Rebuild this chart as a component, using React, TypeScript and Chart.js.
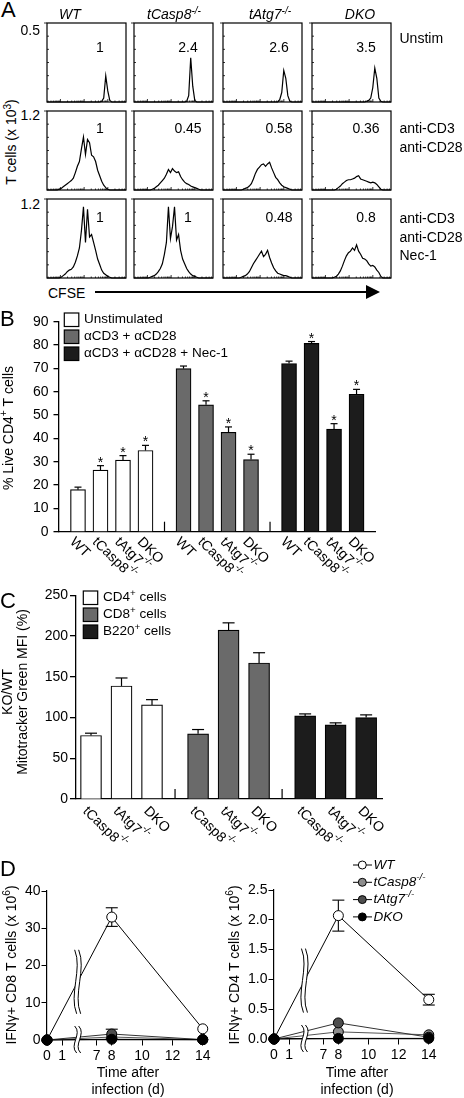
import React, { useEffect, useRef } from "react";
import { Chart, registerables } from "chart.js";

Chart.register(...registerables);

const FONT = '"Liberation Sans", Arial, Helvetica, sans-serif';

// ================= DATA =================
// Panel A
const genotypes = ["WT", "tCasp8", "tAtg7", "DKO"];
const genotypeSup = ["", "-/-", "-/-", ""];
const aRowMax = ["0.5", "1.2", "1.2"];
const aRowConditions = [["Unstim"], ["anti-CD3", "anti-CD28"], ["anti-CD3", "anti-CD28", "Nec-1"]];
const aRatios = [
  ["1", "2.4", "2.6", "3.5"],
  ["1", "0.45", "0.58", "0.36"],
  ["1", "1", "0.48", "0.8"],
];
const cfseBins = Array.from({ length: 40 }, (_, i) => i + 1);
// histogram heights, % of panel full scale
const histUnstimWT = [0,0,0,0,0,0,0,0,0,0, 0,0,0,0,0,0,0,0,0,0, 0,0,0,0,0,0,0,1,5,33, 14,2,0,0,0,0,0,0,0,0];
const histUnstimCasp8 = [0,0,0,0,0,0,0,0,0,0, 0,0,0,0,0,0,0,0,0,0, 0,0,0,0,0,0,1,8,56,20, 2,0,0,0,0,0,0,0,0,0];
const histUnstimAtg7 = [0,0,0,0,0,0,0,0,0,0, 0,0,0,0,0,0,0,0,0,0, 0,0,0,0,0,0,0,0,3,12, 40,30,8,1,0,0,0,0,0,0];
const histUnstimDKO = [0,0,0,0,0,0,0,0,0,0, 0,0,0,0,0,0,0,0,0,0, 0,0,0,0,0,0,0,1,2,5, 18,43,30,5,1,0,0,0,0,0];
const histCD3WT = [0,0,0,0,0,0,1,2,4,6, 8,10,12,15,22,30,36,52,67,45, 64,60,44,42,36,25,18,11,6,3, 1,0,0,0,0,0,0,0,0,0];
const histCD3Casp8 = [0,0,0,0,0,0,0,0,0,1, 2,4,6,9,12,15,20,26,22,27, 24,22,23,17,13,10,8,7,5,4, 3,2,1,0,0,0,0,0,0,0];
const histCD3Atg7 = [0,0,0,0,0,0,0,0,0,0, 1,2,3,5,8,14,21,26,29,32, 33,30,33,35,28,22,16,13,9,6, 4,3,2,1,0,0,0,0,0,0];
const histCD3DKO = [0,0,0,0,0,0,0,0,0,0, 0,0,1,3,5,8,10,12,13,13, 14,15,17,18,14,13,12,11,10,9, 10,9,7,4,1,0,0,0,0,0];
const histNecWT = [0,0,0,0,0,0,0,1,3,5, 8,10,11,14,20,28,38,60,90,45, 87,52,55,45,35,24,17,10,6,4, 2,1,0,0,0,0,0,0,0,0];
const histNecCasp8 = [0,0,0,0,0,0,0,0,1,2, 3,5,8,12,18,30,45,90,50,65, 90,48,55,35,24,18,12,8,5,3, 2,1,0,0,0,0,0,0,0,0];
const histNecAtg7 = [0,0,0,0,0,0,0,0,0,1, 2,3,5,8,13,18,22,26,30,34, 27,30,35,26,19,13,9,6,5,4, 3,3,2,1,0,0,0,0,0,0];
const histNecDKO = [0,0,0,0,0,0,0,0,0,0, 0,1,2,5,9,15,22,28,32,34, 38,35,42,34,30,25,24,22,18,15, 16,14,10,7,2,0,0,0,0,0];

// Panel B
const bGenotypes = ["WT", "tCasp8", "tAtg7", "DKO"];
const bGenotypeSup = ["", "-/-", "-/-", ""];
const bLegend = ["Unstimulated", "αCD3 + αCD28", "αCD3 + αCD28 + Nec-1"];
const bUnstim = [18, 26.4, 30.7, 34.8];
const bUnstimErr = [1.1, 1.9, 1.9, 2.2];
const bCD3 = [69.9, 54.4, 42.6, 30.9];
const bCD3Err = [1.1, 1.7, 2.3, 2.3];
const bNec = [72.1, 80.7, 44.0, 58.9];
const bNecErr = [1.0, 0.8, 2.3, 2.1];
const bStars = [false, true, true, true];

// Panel C
const cGenotypes = ["tCasp8", "tAtg7", "DKO"];
const cGenotypeSup = ["-/-", "-/-", ""];
const cLegend = ["CD4", "CD8", "B220"];
const cCD4 = [78, 138.8, 115.5];
const cCD4Err = [2.8, 9.8, 6.5];
const cCD8 = [80, 207.3, 167];
const cCD8Err = [5.3, 9, 12.6];
const cB220 = [102, 91, 100];
const cB220Err = [2.5, 2.5, 3.3];

// Panel D
const dDays = [0, 8, 14];
const dTickDays = [0, 1, 7, 8, 10, 12, 14];
const dSeriesNames = ["WT", "tCasp8", "tAtg7", "DKO"];
const dCD8WT = [0, 33, 3];
const dCD8WTErr = [0, 2.5, 0];
const dCD8Casp8 = [0, 0.8, 0.1];
const dCD8Atg7 = [0, 1.6, 0.1];
const dCD8Atg7Err = [0, 1.3, 0];
const dCD8DKO = [0, 0.2, 0.1];
const dCD4WT = [0, 2.07, 0.66];
const dCD4WTErr = [0, 0.26, 0.09];
const dCD4Casp8 = [0, 0.12, 0.07];
const dCD4Atg7 = [0, 0.27, 0.03];
const dCD4DKO = [0, 0.01, 0.01];

// ================= LAYOUT / STYLE =================
const A_COL_X = [47, 134, 223, 312];
const A_ROW_Y = [23, 111, 199];
const A_W = 79;
const A_H = 79;
const aHistRows = [
  [histUnstimWT, histUnstimCasp8, histUnstimAtg7, histUnstimDKO],
  [histCD3WT, histCD3Casp8, histCD3Atg7, histCD3DKO],
  [histNecWT, histNecCasp8, histNecAtg7, histNecDKO],
];
const B_COLORS = ["#ffffff", "#6a6a6a", "#1c1c1c"];
const D_COLORS = ["#ffffff", "#8e8e8e", "#4e4e4e", "#000000"];
const D_LINE = ["#000000", "#555555", "#333333", "#000000"];
const D_GAP = 3.73; // axis units removed by the broken x-axis between day 1 and day 7
const dAxisPos = (d: number) => (d <= 1 ? d : d - D_GAP);

type Seg = { t: string; sup?: boolean };
type TextItem = {
  segs: Seg[];
  x: number;
  y: number;
  angle?: number;
  align?: "left" | "center" | "right";
  size?: number;
  italic?: boolean;
  baseline?: CanvasTextBaseline;
};

function drawRich(ctx: CanvasRenderingContext2D, it: TextItem) {
  const size = it.size ?? 14;
  const supSize = size * 0.72;
  const f = (s: number) => `${it.italic ? "italic " : ""}${s}px ${FONT}`;
  let total = 0;
  const ws = it.segs.map((s) => {
    ctx.font = f(s.sup ? supSize : size);
    const w = ctx.measureText(s.t).width;
    total += w;
    return w;
  });
  ctx.save();
  ctx.translate(it.x, it.y);
  ctx.rotate(it.angle ?? 0);
  ctx.fillStyle = "#000";
  ctx.textAlign = "left";
  ctx.textBaseline = it.baseline ?? "middle";
  let cx = it.align === "center" ? -total / 2 : it.align === "right" ? -total : 0;
  it.segs.forEach((s, i) => {
    ctx.font = f(s.sup ? supSize : size);
    ctx.fillText(s.t, cx, s.sup ? -size * 0.36 : 0);
    cx += ws[i];
  });
  ctx.restore();
}

function seg(label: string, sup?: string): Seg[] {
  return sup ? [{ t: label }, { t: sup, sup: true }] : [{ t: label }];
}

function line(ctx: CanvasRenderingContext2D, x1: number, y1: number, x2: number, y2: number) {
  ctx.beginPath();
  ctx.moveTo(x1, y1);
  ctx.lineTo(x2, y2);
  ctx.stroke();
}

// ================= PLUGINS =================
const histFramePlugin = {
  id: "histFrame",
  afterDraw(chart: any) {
    const { ctx, chartArea: a } = chart;
    ctx.save();
    ctx.strokeStyle = "#000";
    ctx.lineWidth = 1.2;
    ctx.strokeRect(a.left, a.top, a.right - a.left, a.bottom - a.top);
    ctx.lineWidth = 0.8;
    const h = a.bottom - a.top;
    for (let k = 1; k < 6; k++) {
      const y = a.top + (h * k) / 6;
      line(ctx, a.left, y, a.left + 2, y);
    }
    line(ctx, a.left - 3, a.top, a.left, a.top);
    const w = a.right - a.left;
    for (let d = -1; d < 4; d++) {
      const s = 0.17 + 0.3 * d;
      for (let m = 1; m < 10; m++) {
        const rel = s + 0.3 * Math.log10(m);
        if (rel <= 0.01 || rel >= 0.99) continue;
        const x = a.left + rel * w;
        line(ctx, x, a.bottom, x, a.bottom - (m === 1 ? 3 : 1.5));
      }
    }
    ctx.restore();
  },
};

const barErrorPlugin = {
  id: "barErrors",
  afterDatasetsDraw(chart: any) {
    const ctx = chart.ctx;
    const yS = chart.scales.y;
    ctx.save();
    ctx.strokeStyle = "#000";
    ctx.fillStyle = "#000";
    ctx.lineWidth = 1.2;
    chart.data.datasets.forEach((ds: any, di: number) => {
      chart.getDatasetMeta(di).data.forEach((el: any, i: number) => {
        const v = ds.data[i].y;
        const yTop = yS.getPixelForValue(v + ds.errors[i]);
        line(ctx, el.x, el.y, el.x, yTop);
        line(ctx, el.x - ds.capHalf, yTop, el.x + ds.capHalf, yTop);
        if (ds.stars && ds.stars[i]) {
          ctx.font = `14px ${FONT}`;
          ctx.textAlign = "center";
          ctx.textBaseline = "alphabetic";
          ctx.fillText("*", el.x, yTop + 1);
        }
      });
    });
    ctx.restore();
  },
};

const barXLabelPlugin = (dx: number, dy: number) => ({
  id: "barXLabels",
  afterDraw(chart: any) {
    const ctx = chart.ctx;
    const bottom = chart.chartArea.bottom;
    chart.data.datasets.forEach((ds: any, di: number) => {
      chart.getDatasetMeta(di).data.forEach((el: any, i: number) => {
        drawRich(ctx, {
          segs: seg(ds.xLabels[i], ds.xSups[i]),
          x: el.x + dx,
          y: bottom + dy,
          angle: Math.PI / 4,
          baseline: "top",
          size: 14,
        });
      });
    });
  },
});

const gapTickPlugin = (positions: number[], height: number) => ({
  id: "gapTicks",
  afterDraw(chart: any) {
    const ctx = chart.ctx;
    const xS = chart.scales.x;
    const b = chart.chartArea.bottom;
    ctx.save();
    ctx.strokeStyle = "#000";
    ctx.lineWidth = 1.2;
    positions.forEach((p) => {
      const x = xS.getPixelForValue(p);
      line(ctx, x, b, x, b - height);
    });
    ctx.restore();
  },
});

const boxLegendPlugin = (
  items: { segs: Seg[]; color: string }[],
  o: { x: number; y0: number; pitch: number; w: number; h: number; textX: number; size: number }
) => ({
  id: "boxLegend",
  afterDraw(chart: any) {
    const ctx = chart.ctx;
    items.forEach((it, k) => {
      const y = o.y0 + k * o.pitch;
      ctx.save();
      ctx.fillStyle = it.color;
      ctx.fillRect(o.x, y, o.w, o.h);
      ctx.strokeStyle = "#000";
      ctx.lineWidth = 1.2;
      ctx.strokeRect(o.x, y, o.w, o.h);
      ctx.restore();
      drawRich(ctx, { segs: it.segs, x: o.textX, y: y + o.h / 2, size: o.size });
    });
  },
});

const textPlugin = (items: TextItem[]) => ({
  id: "texts",
  afterDraw(chart: any) {
    items.forEach((it) => drawRich(chart.ctx, it));
  },
});

const pointErrorPlugin = {
  id: "pointErrors",
  beforeDatasetsDraw(chart: any) {
    const ctx = chart.ctx;
    const yS = chart.scales.y;
    ctx.save();
    ctx.strokeStyle = "#000";
    ctx.lineWidth = 1.1;
    chart.data.datasets.forEach((ds: any, di: number) => {
      if (!ds.errors) return;
      chart.getDatasetMeta(di).data.forEach((el: any, i: number) => {
        const e = ds.errors[i];
        if (!e) return;
        const v = ds.data[i].y;
        const yT = yS.getPixelForValue(v + e);
        const yB = yS.getPixelForValue(Math.max(v - e, 0));
        line(ctx, el.x, yT, el.x, yB);
        line(ctx, el.x - 6, yT, el.x + 6, yT);
        line(ctx, el.x - 6, yB, el.x + 6, yB);
      });
    });
    ctx.restore();
  },
};

function drawBreak(ctx: CanvasRenderingContext2D, bx: number, yTop: number, yBot: number) {
  const h = yBot - yTop;
  const amp = 3.5;
  const gap = 4;
  ctx.save();
  ctx.beginPath();
  ctx.moveTo(bx - 1, yTop);
  ctx.bezierCurveTo(bx + amp * 2, yTop + h * 0.3, bx - amp * 2, yBot - h * 0.3, bx + 1, yBot);
  ctx.lineTo(bx + gap + 1, yBot);
  ctx.bezierCurveTo(bx + gap - amp * 2, yBot - h * 0.3, bx + gap + amp * 2, yTop + h * 0.3, bx + gap - 1, yTop);
  ctx.closePath();
  ctx.fillStyle = "#fff";
  ctx.fill();
  ctx.beginPath();
  ctx.moveTo(bx - 1, yTop);
  ctx.bezierCurveTo(bx + amp * 2, yTop + h * 0.3, bx - amp * 2, yBot - h * 0.3, bx + 1, yBot);
  ctx.moveTo(bx + gap - 1, yTop);
  ctx.bezierCurveTo(bx + gap + amp * 2, yTop + h * 0.3, bx + gap - amp * 2, yBot - h * 0.3, bx + gap + 1, yBot);
  ctx.strokeStyle = "#000";
  ctx.lineWidth = 1;
  ctx.stroke();
  ctx.restore();
}

const axisBreakPlugin = {
  id: "axisBreak",
  afterDatasetsDraw(chart: any) {
    const ctx = chart.ctx;
    const xS = chart.scales.x;
    const a = chart.chartArea;
    const bx = xS.getPixelForValue(dAxisPos(1) + 0.45 * (dAxisPos(7) - dAxisPos(1)));
    const wi = chart.data.datasets.findIndex((d: any) => d.isWT);
    const pts = chart.getDatasetMeta(wi).data;
    const t = (bx - pts[0].x) / (pts[1].x - pts[0].x);
    const yc = pts[0].y + t * (pts[1].y - pts[0].y);
    drawBreak(ctx, bx - 2, yc - 32, yc + 32);
    drawBreak(ctx, bx - 2, a.bottom - 14, a.bottom + 13);
  },
};

const dotLegendPlugin = (
  items: { segs: Seg[]; color: string }[],
  o: { x1: number; x2: number; cx: number; r: number; y0: number; pitch: number; textX: number }
) => ({
  id: "dotLegend",
  afterDraw(chart: any) {
    const ctx = chart.ctx;
    items.forEach((it, k) => {
      const y = o.y0 + k * o.pitch;
      ctx.save();
      ctx.strokeStyle = "#000";
      ctx.lineWidth = 1;
      line(ctx, o.x1, y, o.x2, y);
      ctx.beginPath();
      ctx.arc(o.cx, y, o.r, 0, Math.PI * 2);
      ctx.fillStyle = it.color;
      ctx.fill();
      ctx.stroke();
      ctx.restore();
      drawRich(ctx, { segs: it.segs, x: o.textX, y, size: 13.5, italic: true });
    });
  },
});

// ================= CONFIGS =================
const baseOpts = {
  responsive: false,
  animation: false as const,
  events: [] as any[],
};

function makeHistConfig(hist: number[]): any {
  return {
    type: "line",
    data: {
      labels: cfseBins,
      datasets: [
        { data: hist, borderColor: "#000", borderWidth: 1.2, pointRadius: 0, tension: 0, fill: false, clip: false },
      ],
    },
    options: {
      ...baseOpts,
      layout: { padding: 3 },
      scales: {
        x: { type: "category", display: false, offset: false },
        y: { min: 0, max: 100, display: false },
      },
      plugins: { legend: { display: false }, tooltip: { enabled: false } },
    },
    plugins: [histFramePlugin],
  };
}

function makeBConfig(): any {
  const H = 290;
  const P = 4.69;
  const series = [
    { values: bUnstim, errors: bUnstimErr },
    { values: bCD3, errors: bCD3Err },
    { values: bNec, errors: bNecErr },
  ];
  return {
    type: "bar",
    data: {
      datasets: series.map((s, g) => ({
        label: bLegend[g],
        data: s.values.map((v, i) => ({ x: g * P + i, y: v })),
        backgroundColor: B_COLORS[g],
        borderColor: "#000",
        borderWidth: 1.2,
        barThickness: 15,
        grouped: false,
        errors: s.errors,
        stars: bStars,
        capHalf: 3.5,
        xLabels: bGenotypes,
        xSups: bGenotypeSup,
      })),
    },
    options: {
      ...baseOpts,
      layout: { padding: { left: 0, top: 21.7, right: 89, bottom: 0 } },
      scales: {
        x: {
          type: "linear",
          offset: false,
          min: -0.844,
          max: 13.2,
          ticks: { display: false },
          grid: { display: false, drawTicks: false, offset: false },
          border: { display: true, color: "#000", width: 1.3 },
          afterFit: (s: any) => {
            s.height = H - 231.7;
          },
        },
        y: {
          type: "linear",
          min: 0,
          max: 90,
          ticks: { stepSize: 10, color: "#000", font: { family: FONT, size: 14 }, padding: 5 },
          grid: { drawOnChartArea: false, tickLength: 5.5, color: "#000", lineWidth: 1.3 },
          border: { color: "#000", width: 1.3 },
          afterFit: (s: any) => {
            s.width = 59;
          },
        },
      },
      plugins: { legend: { display: false }, tooltip: { enabled: false } },
    },
    plugins: [
      barErrorPlugin,
      barXLabelPlugin(-1, 3),
      gapTickPlugin([3 + (P - 3) / 2, P + 3 + (P - 3) / 2], 10),
      boxLegendPlugin(
        bLegend.map((l, g) => ({ segs: [{ t: l }], color: B_COLORS[g] })),
        { x: 64.3, y0: 13, pitch: 17, w: 14.5, h: 13.5, textX: 84, size: 13.5 }
      ),
      textPlugin([
        {
          segs: [{ t: "% Live CD4" }, { t: "+", sup: true }, { t: " T cells" }],
          x: 9,
          y: 128,
          angle: -Math.PI / 2,
          align: "center",
          size: 14,
        },
      ]),
    ],
  };
}

function makeCConfig(): any {
  const H = 265;
  const P = 3.51;
  const series = [
    { values: cCD4, errors: cCD4Err },
    { values: cCD8, errors: cCD8Err },
    { values: cB220, errors: cB220Err },
  ];
  return {
    type: "bar",
    data: {
      datasets: series.map((s, g) => ({
        label: cLegend[g],
        data: s.values.map((v, i) => ({ x: g * P + i, y: v })),
        backgroundColor: B_COLORS[g],
        borderColor: "#000",
        borderWidth: 1.2,
        barThickness: 21,
        grouped: false,
        errors: s.errors,
        capHalf: 6,
        xLabels: cGenotypes,
        xSups: cGenotypeSup,
      })),
    },
    options: {
      ...baseOpts,
      layout: { padding: { left: 0, top: 10, right: 82, bottom: 0 } },
      scales: {
        x: {
          type: "linear",
          offset: false,
          min: -0.492,
          max: 9.54,
          ticks: { display: false },
          grid: { display: false, drawTicks: false, offset: false },
          border: { display: true, color: "#000", width: 1.3 },
          afterFit: (s: any) => {
            s.height = H - 214;
          },
        },
        y: {
          type: "linear",
          min: 0,
          max: 250,
          ticks: { stepSize: 50, color: "#000", font: { family: FONT, size: 14 }, padding: 2 },
          grid: { drawOnChartArea: false, tickLength: 6, color: "#000", lineWidth: 1.3 },
          border: { color: "#000", width: 1.3 },
          afterFit: (s: any) => {
            s.width = 76;
          },
        },
      },
      plugins: { legend: { display: false }, tooltip: { enabled: false } },
    },
    plugins: [
      barErrorPlugin,
      barXLabelPlugin(-1, 5),
      gapTickPlugin([2 + (P - 2) / 2, P + 2 + (P - 2) / 2], 10),
      boxLegendPlugin(
        cLegend.map((l, g) => ({ segs: [{ t: l }, { t: "+", sup: true }, { t: " cells" }], color: B_COLORS[g] })),
        { x: 83.3, y0: 6, pitch: 17, w: 14.4, h: 13.5, textX: 103, size: 13.5 }
      ),
      textPlugin([
        { segs: [{ t: "KO/WT" }], x: 8, y: 107, angle: -Math.PI / 2, align: "center", size: 14 },
        { segs: [{ t: "Mitotracker Green MFI (%)" }], x: 23, y: 107, angle: -Math.PI / 2, align: "center", size: 14 },
      ]),
    ],
  };
}

function makeDConfig(
  series: { values: number[]; errors?: number[] }[],
  o: { H: number; top: number; bottom: number; left: number; right: number; W: number; yMax: number; yStep: number; yDigits: number; yTitle: Seg[]; titleX: number; xTitleX: number; legend: boolean }
): any {
  const orderOf = [3, 2, 1, 0];
  const plugins: any[] = [
    pointErrorPlugin,
    axisBreakPlugin,
    textPlugin([
      { segs: o.yTitle, x: o.titleX, y: 120, angle: -Math.PI / 2, align: "center", size: 14 },
      { segs: [{ t: "Time after" }], x: o.xTitleX, y: 228.5, align: "center", size: 14 },
      { segs: [{ t: "infection (d)" }], x: o.xTitleX, y: 245.5, align: "center", size: 14 },
    ]),
  ];
  if (o.legend) {
    plugins.push(
      dotLegendPlugin(
        dSeriesNames.map((n, k) => ({ segs: seg(n, genotypeSup[k]), color: D_COLORS[k] })),
        { x1: 131, x2: 150, cx: 140.3, r: 4, y0: 20, pitch: 17.3, textX: 151.5 }
      )
    );
  }
  return {
    type: "line",
    data: {
      datasets: series.map((s, k) => ({
        label: dSeriesNames[k],
        data: dDays.map((d, i) => ({ x: dAxisPos(d), y: s.values[i] })),
        borderColor: D_LINE[k],
        borderWidth: 1,
        pointRadius: 5,
        pointBackgroundColor: D_COLORS[k],
        pointBorderColor: "#000",
        pointBorderWidth: 1,
        tension: 0,
        fill: false,
        clip: false,
        order: orderOf[k],
        errors: s.errors,
        isWT: k === 0,
      })),
    },
    options: {
      ...baseOpts,
      layout: { padding: { left: 0, top: o.top, right: o.W - o.right, bottom: 0 } },
      scales: {
        x: {
          type: "linear",
          min: 0,
          max: 10.55,
          afterBuildTicks: (s: any) => {
            s.ticks = dTickDays.map((d) => ({ value: dAxisPos(d) }));
          },
          ticks: {
            autoSkip: false,
            maxRotation: 0,
            minRotation: 0,
            color: "#000",
            font: { family: FONT, size: 14 },
            padding: 2,
            callback: (_v: any, i: number) => String(dTickDays[i]),
          },
          grid: { drawOnChartArea: false, tickLength: 5.5, color: "#000", lineWidth: 1 },
          border: { color: "#000", width: 1.2 },
          afterFit: (s: any) => {
            s.height = o.H - o.bottom;
          },
        },
        y: {
          type: "linear",
          min: 0,
          max: o.yMax,
          ticks: {
            stepSize: o.yStep,
            color: "#000",
            font: { family: FONT, size: 14 },
            padding: 1,
            callback: (v: any) => Number(v).toFixed(o.yDigits),
          },
          grid: { drawOnChartArea: false, tickLength: 5.5, color: "#000", lineWidth: 1 },
          border: { color: "#000", width: 1.2 },
          afterFit: (s: any) => {
            s.width = o.left;
          },
        },
      },
      plugins: { legend: { display: false }, tooltip: { enabled: false } },
    },
    plugins,
  };
}

// ================= COMPONENTS =================
function ChartCanvas({ left, top, width, height, makeConfig }: { left: number; top: number; width: number; height: number; makeConfig: () => any }) {
  const ref = useRef<HTMLCanvasElement>(null);
  useEffect(() => {
    const chart = new Chart(ref.current as HTMLCanvasElement, makeConfig());
    return () => chart.destroy();
  }, []);
  return <canvas ref={ref} width={width} height={height} style={{ position: "absolute", left, top, width, height }} />;
}

function Sup({ children }: { children: React.ReactNode }) {
  return <span style={{ fontSize: "0.72em", position: "relative", top: "-0.45em" }}>{children}</span>;
}

function Txt({ x, y, size = 14, align = "left", italic, children }: { x: number; y: number; size?: number; align?: string; italic?: boolean; children: React.ReactNode }) {
  const tx = align === "center" ? "-50%" : align === "right" ? "-100%" : "0";
  return (
    <div
      style={{
        position: "absolute",
        left: x,
        top: y - size / 2,
        fontSize: size,
        lineHeight: `${size}px`,
        fontFamily: FONT,
        fontStyle: italic ? "italic" : "normal",
        whiteSpace: "nowrap",
        transform: `translateX(${tx})`,
        color: "#000",
      }}
    >
      {children}
    </div>
  );
}

export default function App() {
  const aHeaderX = [70, 174, 270, 360];
  const aRatioX = [100, 188, 279, 366];
  const aRatioY = [47, 128, 217];
  const aRowMaxY = [30, 114.5, 204];
  const aCondY = [38, 128, 218];
  return (
    <div style={{ position: "absolute", left: 0, top: 0, width: 464, height: 1098, background: "#fff", overflow: "hidden", fontFamily: FONT, color: "#000" }}>
      {/* ---------- Panel A ---------- */}
      {aHistRows.map((row, r) =>
        row.map((hist, c) => (
          <ChartCanvas
            key={`h${r}-${c}`}
            left={A_COL_X[c] - 3}
            top={A_ROW_Y[r] - 3}
            width={A_W + 6}
            height={A_H + 6}
            makeConfig={() => makeHistConfig(hist)}
          />
        ))
      )}
      <Txt x={1} y={9.5} size={22}>A</Txt>
      {genotypes.map((g, c) => (
        <Txt key={`gh${c}`} x={aHeaderX[c]} y={14} align="center" italic>
          {g}
          {genotypeSup[c] ? <Sup>{genotypeSup[c]}</Sup> : null}
        </Txt>
      ))}
      {aRowMax.map((m, r) => (
        <Txt key={`rm${r}`} x={40} y={aRowMaxY[r]} align="right">{m}</Txt>
      ))}
      <div
        style={{
          position: "absolute",
          left: 12,
          top: 142,
          fontSize: 14,
          lineHeight: "14px",
          whiteSpace: "nowrap",
          transform: "translate(-50%, -50%) rotate(-90deg)",
        }}
      >
        T cells (x 10<Sup>3</Sup>)
      </div>
      {aRatios.map((row, r) =>
        row.map((t, c) => (
          <Txt key={`ra${r}-${c}`} x={aRatioX[c]} y={aRatioY[r]} align="center">{t}</Txt>
        ))
      )}
      {aRowConditions.map((lines, r) =>
        lines.map((l, k) => (
          <Txt key={`co${r}-${k}`} x={399.5} y={aCondY[r] + k * 18.5}>{l}</Txt>
        ))
      )}
      <Txt x={48} y={293}>CFSE</Txt>
      <div style={{ position: "absolute", left: 95, top: 291.3, width: 272, height: 2, background: "#000" }} />
      <div
        style={{
          position: "absolute",
          left: 366,
          top: 292.3 - 7,
          width: 0,
          height: 0,
          borderTop: "7px solid transparent",
          borderBottom: "7px solid transparent",
          borderLeft: "14px solid #000",
        }}
      />

      {/* ---------- Panel B ---------- */}
      <ChartCanvas left={0} top={300} width={464} height={290} makeConfig={makeBConfig} />
      <Txt x={0} y={319} size={22}>B</Txt>

      {/* ---------- Panel C ---------- */}
      <ChartCanvas left={0} top={585} width={464} height={265} makeConfig={makeCConfig} />
      <Txt x={0} y={600.5} size={22}>C</Txt>

      {/* ---------- Panel D ---------- */}
      <ChartCanvas
        left={0}
        top={845}
        width={222}
        height={253}
        makeConfig={() =>
          makeDConfig(
            [
              { values: dCD8WT, errors: dCD8WTErr },
              { values: dCD8Casp8 },
              { values: dCD8Atg7, errors: dCD8Atg7Err },
              { values: dCD8DKO },
            ],
            {
              H: 253, top: 46, bottom: 195, left: 47, right: 207, W: 222,
              yMax: 40, yStep: 10, yDigits: 0,
              yTitle: [{ t: "IFNγ+ CD8 T cells (x 10" }, { t: "6", sup: true }, { t: ")" }],
              titleX: 12, xTitleX: 128, legend: false,
            }
          )
        }
      />
      <ChartCanvas
        left={222}
        top={845}
        width={242}
        height={253}
        makeConfig={() =>
          makeDConfig(
            [
              { values: dCD4WT, errors: dCD4WTErr },
              { values: dCD4Casp8 },
              { values: dCD4Atg7 },
              { values: dCD4DKO },
            ],
            {
              H: 253, top: 45, bottom: 194, left: 52, right: 211, W: 242,
              yMax: 2.5, yStep: 0.5, yDigits: 1,
              yTitle: [{ t: "IFNγ+ CD4 T cells (x 10" }, { t: "6", sup: true }, { t: ")" }],
              titleX: 13, xTitleX: 135, legend: true,
            }
          )
        }
      />
      <Txt x={0} y={868.5} size={22}>D</Txt>
    </div>
  );
}
